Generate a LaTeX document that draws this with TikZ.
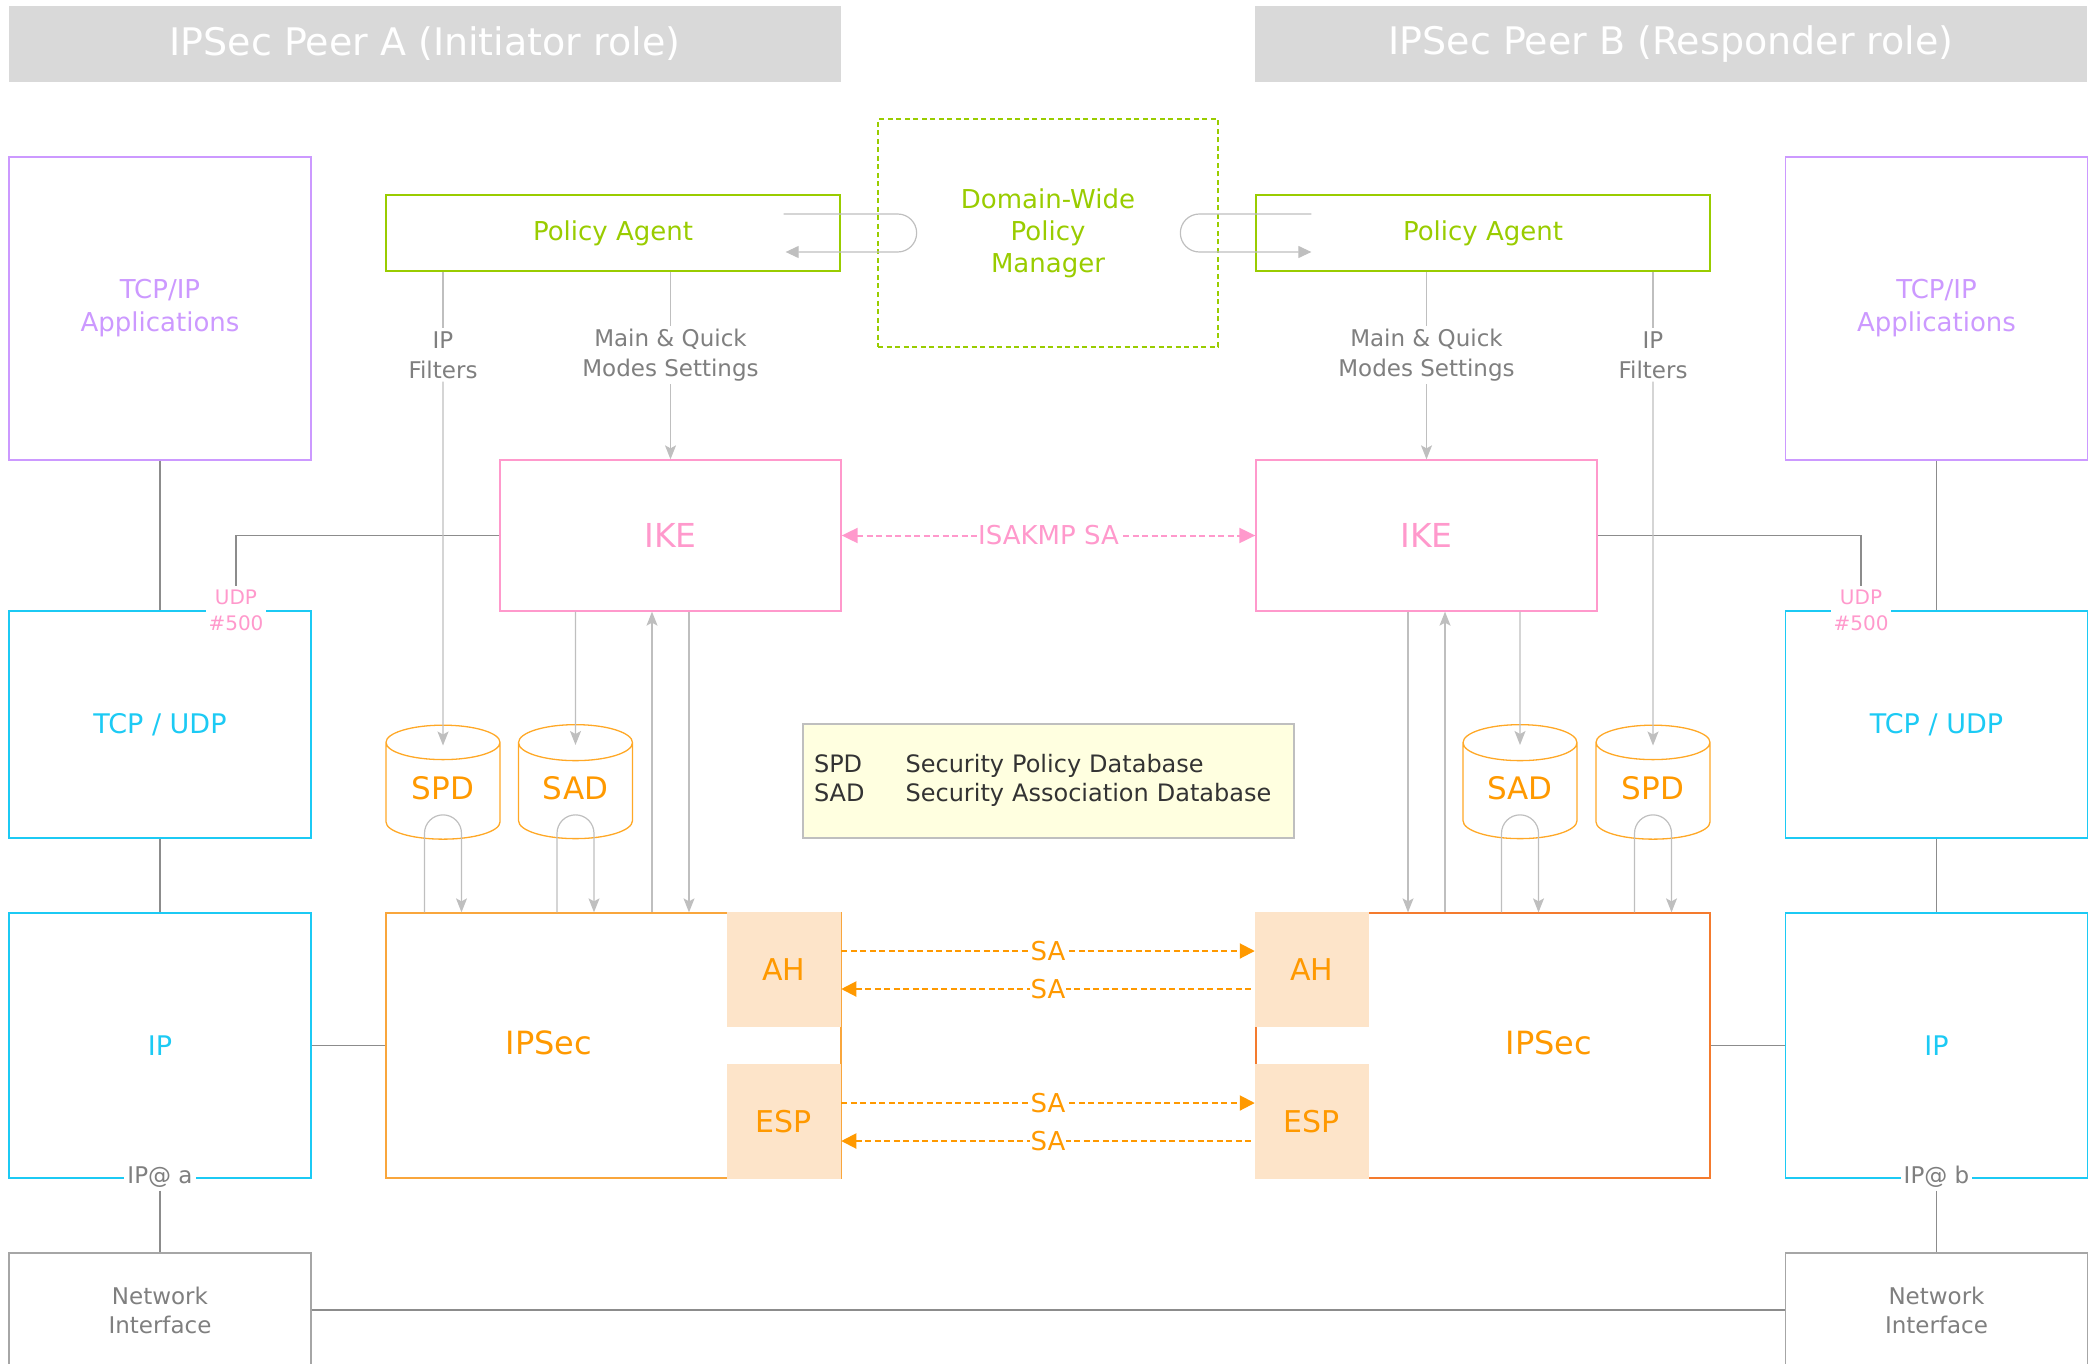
\documentclass[tikz,border=0pt]{standalone}
\usepackage{fontspec}
\setmainfont{DejaVu Sans}
\usetikzlibrary{arrows.meta,shapes.geometric,positioning,calc}

\definecolor{peergray}{HTML}{D9D9D9}
\definecolor{appviolet}{HTML}{CC99FF}
\definecolor{netcyan}{HTML}{1CCAF4}
\definecolor{ikepink}{HTML}{FF99CC}
\definecolor{agentgreen}{HTML}{99CC00}
\definecolor{dborange}{HTML}{FF9900}
\definecolor{ipsecamber}{HTML}{F9A63C}
\definecolor{ipsecred}{HTML}{F47B2E}
\definecolor{peach}{HTML}{FDE4C9}
\definecolor{tagtext}{HTML}{7F7F7F}
\definecolor{nicgray}{HTML}{A6A6A6}
\definecolor{flowgray}{HTML}{BFBFBF}
\definecolor{linkgray}{HTML}{8C8C8C}
\definecolor{legendfill}{HTML}{FFFFE0}
\definecolor{legendtext}{HTML}{333333}

\begin{document}
\begin{tikzpicture}[x=1pt,y=-1pt,
  every node/.style={align=center,font=\fontsize{24}{30}\selectfont},
  peer/.style={rectangle,fill=peergray,text=white,minimum width=832pt,
    minimum height=76pt,font=\fontsize{38}{44}\selectfont},
  layer/.style={rectangle,draw,line width=1.3pt,minimum width=302pt},
  appbox/.style={layer,draw=appviolet,text=appviolet,minimum height=303pt,
    font=\fontsize{26}{33}\selectfont},
  netbox/.style={layer,draw=netcyan,text=netcyan,font=\fontsize{27}{32}\selectfont},
  nicbox/.style={layer,draw=nicgray,text=tagtext,minimum height=114pt,
    font=\fontsize{23}{29}\selectfont},
  agent/.style={rectangle,draw=agentgreen,text=agentgreen,line width=1.3pt,
    minimum width=454pt,minimum height=76pt,font=\fontsize{26}{30}\selectfont},
  ike/.style={rectangle,draw=ikepink,text=ikepink,line width=1.3pt,
    minimum width=341pt,minimum height=151pt,font=\fontsize{33}{38}\selectfont},
  dbase/.style={cylinder,shape border rotate=90,aspect=0.5,draw=dborange!85,
    text=dborange,line width=1.3pt,minimum width=114pt,minimum height=114pt,
    text depth=12pt,font=\fontsize{31}{36}\selectfont},
  ipsec/.style={rectangle,line width=1.3pt,minimum height=265pt},
  ipsectext/.style={text=dborange,font=\fontsize{32}{38}\selectfont},
  proto/.style={rectangle,fill=peach,draw=peach,line width=1.5pt,
    minimum width=113pt,minimum height=113pt,text=dborange,
    font=\fontsize{30}{36}\selectfont},
  tag/.style={fill=white,text=tagtext,inner sep=3pt,font=\fontsize{23}{30}\selectfont},
  udptag/.style={tag,text=ikepink,font=\fontsize{20}{26}\selectfont},
  link/.style={draw=linkgray,line width=1.3pt},
  feed/.style={draw=flowgray,line width=1.2pt},
  flow/.style={feed,-{Stealth[length=14pt,width=11pt,inset=3pt]}},
  loopback/.style={feed,-{Triangle[length=13pt,width=12pt]}},
  saline/.style={draw=dborange,line width=2pt,dash pattern=on 6pt off 3.5pt},
  satag/.style={fill=white,text=dborange,inner sep=1pt,font=\fontsize{26}{30}\selectfont},
  isakmp/.style={draw=ikepink,line width=2pt,dash pattern=on 6pt off 3.5pt,
    {Triangle[length=16pt,width=15pt]}-{Triangle[length=16pt,width=15pt]}}]

\path[use as bounding box] (0,0) rectangle (2100,1364);
\clip (0,0) rectangle (2100,1364);

% peers
\node[peer] (peerA) at (425,44) {IPSec Peer A (Initiator role)};
\node[peer] (peerB) at (1671,44) {IPSec Peer B (Responder role)};

% policy
\node[draw=agentgreen,text=agentgreen,line width=2pt,dash pattern=on 5pt off 3.5pt,
  minimum width=340pt,minimum height=227pt,font=\fontsize{26}{32}\selectfont]
  (manager) at (1048,233) {Domain-Wide\\Policy\\Manager};
\node[agent] (agentA) at (613,233) {Policy Agent};
\node[agent] (agentB) at (1483,233) {Policy Agent};

% host stacks
\node[appbox] (appsA) at (160,308.5) {TCP/IP\\Applications};
\node[appbox] (appsB) at (1936.5,308.5) {TCP/IP\\Applications};
\node[netbox,minimum height=227pt] (tcpA) at (160,724.5) {TCP / UDP};
\node[netbox,minimum height=227pt] (tcpB) at (1936.5,724.5) {TCP / UDP};
\node[netbox,minimum height=265pt] (ipA) at (160,1045.5) {IP};
\node[netbox,minimum height=265pt] (ipB) at (1936.5,1045.5) {IP};
\node[nicbox] (nicA) at (160,1310) {Network\\Interface};
\node[nicbox] (nicB) at (1936.5,1310) {Network\\Interface};

% IKE
\node[ike] (ikeA) at (670.5,535.5) {IKE};
\node[ike] (ikeB) at (1426.5,535.5) {IKE};

% databases
\node[dbase] (spdA) at (443,794) {SPD};
\node[dbase] (sadA) at (575.5,794) {SAD};
\node[dbase] (sadB) at (1520,794) {SAD};
\node[dbase] (spdB) at (1653,794) {SPD};

\node[fill=legendfill,draw=flowgray,line width=1.3pt,text=legendtext,
  text width=469pt,inner xsep=11pt,minimum height=114pt,align=left,
  font=\fontsize{24}{29}\selectfont] (legend) at (1048.5,781)
  {\begin{tabular}{@{}l@{\hspace{41pt}}l@{}}
   SPD & Security Policy Database\\
   SAD & Security Association Database
   \end{tabular}};

% IPSec
\node[ipsec,draw=ipsecamber,minimum width=455pt] (ipsecA) at (613.5,1045.5) {};
\node[ipsec,draw=ipsecred,minimum width=454pt] (ipsecB) at (1483,1045.5) {};
\node[proto] (ahA) at (784,969.5) {AH};
\node[proto] (espA) at (784,1121.5) {ESP};
\node[proto] (ahB) at (1312,969.5) {AH};
\node[proto] (espB) at (1312,1121.5) {ESP};
\node[ipsectext] (ipsecAtxt) at (549,1043) {IPSec};
\node[ipsectext] (ipsecBtxt) at (1549,1043) {IPSec};

% tags
\node[udptag] (udpA) at (236,610) {UDP\\\#500};
\node[udptag] (udpB) at (1861,610) {UDP\\\#500};
\node[tag] (addrA) at (160,1177) {IP@ a};
\node[tag] (addrB) at (1936.5,1177) {IP@ b};
\node[tag] (filtA) at (443,355) {IP\\Filters};
\node[tag] (modesA) at (670.5,355) {Main \& Quick\\Modes Settings};
\node[tag] (modesB) at (1426.5,355) {Main \& Quick\\Modes Settings};
\node[tag] (filtB) at (1653,355) {IP\\Filters};

% stack links
\draw[link] (appsA) -- (tcpA);
\draw[link] (tcpA) -- (ipA);
\draw[link] (ipA) -- (ipsecA);
\draw[link] (addrA) -- (nicA);
\draw[link] (appsB) -- (tcpB);
\draw[link] (tcpB) -- (ipB);
\draw[link] (ipB) -- (ipsecB);
\draw[link] (addrB) -- (nicB);
\draw[link] (nicA) -- (nicB);
\draw[link] (ikeA.west) -| (udpA.north);
\draw[link] (ikeB.east) -| (udpB.north);

% policy agent to IKE / SPD
\draw[feed] (filtA |- agentA.south) -- (filtA);
\draw[flow] (filtA) -- ([yshift=-21pt]spdA.north);
\draw[feed] (modesA |- agentA.south) -- (modesA);
\draw[flow] (modesA) -- (ikeA);
\draw[feed] (modesB |- agentB.south) -- (modesB);
\draw[flow] (modesB) -- (ikeB);
\draw[feed] (filtB |- agentB.south) -- (filtB);
\draw[flow] (filtB) -- ([yshift=-21pt]spdB.north);

% policy manager loops
\draw[loopback] ([xshift=-57pt,yshift=19pt]agentA.east) -- ++(114,0)
  arc[start angle=90,end angle=-90,radius=19pt] -- ++(-112,0);
\draw[loopback] ([xshift=56pt,yshift=19pt]agentB.west) -- ++(-112,0)
  arc[start angle=90,end angle=270,radius=19pt] -- ++(112,0);

% IKE and databases
\draw[flow] (ikeA.south -| sadA) -- ([yshift=-21pt]sadA.north);
\draw[flow] ($(ipsecA.north -| ikeA.south)+(-18.5,0)$) -- ($(ikeA.south)+(-18.5,0)$);
\draw[flow] ($(ikeA.south)+(18.5,0)$) -- ($(ipsecA.north -| ikeA.south)+(18.5,0)$);
\draw[flow] (ikeB.south -| sadB) -- ([yshift=-21pt]sadB.north);
\draw[flow] ($(ikeB.south)+(-18.5,0)$) -- ($(ipsecB.north -| ikeB.south)+(-18.5,0)$);
\draw[flow] ($(ipsecB.north -| ikeB.south)+(18.5,0)$) -- ($(ikeB.south)+(18.5,0)$);

% database lookups
\foreach \db/\sec in {spdA/ipsecA,sadA/ipsecA,sadB/ipsecB,spdB/ipsecB}
  \draw[flow] ($(\sec.north -| \db.south)+(-18.5,0)$) -- ++(0,-79)
    arc[start angle=180,end angle=0,radius=18.5pt]
    -- ($(\sec.north -| \db.south)+(18.5,0)$);

% security associations
\draw[isakmp] (ikeA) -- node[satag,text=ikepink] {ISAKMP SA} (ikeB);
\draw[saline,-{Triangle[length=15pt,width=15pt]}] ([yshift=18.5pt]ahA.east)
  -- node[satag] {SA} ([yshift=18.5pt]ahB.west);
\draw[saline,{Triangle[length=15pt,width=15pt]}-] ([yshift=-19.5pt]ahA.east)
  -- node[satag] {SA} ([yshift=-19.5pt]ahB.west);
\draw[saline,-{Triangle[length=15pt,width=15pt]}] ([yshift=18.5pt]espA.east)
  -- node[satag] {SA} ([yshift=18.5pt]espB.west);
\draw[saline,{Triangle[length=15pt,width=15pt]}-] ([yshift=-19.5pt]espA.east)
  -- node[satag] {SA} ([yshift=-19.5pt]espB.west);
\end{tikzpicture}
\end{document}
